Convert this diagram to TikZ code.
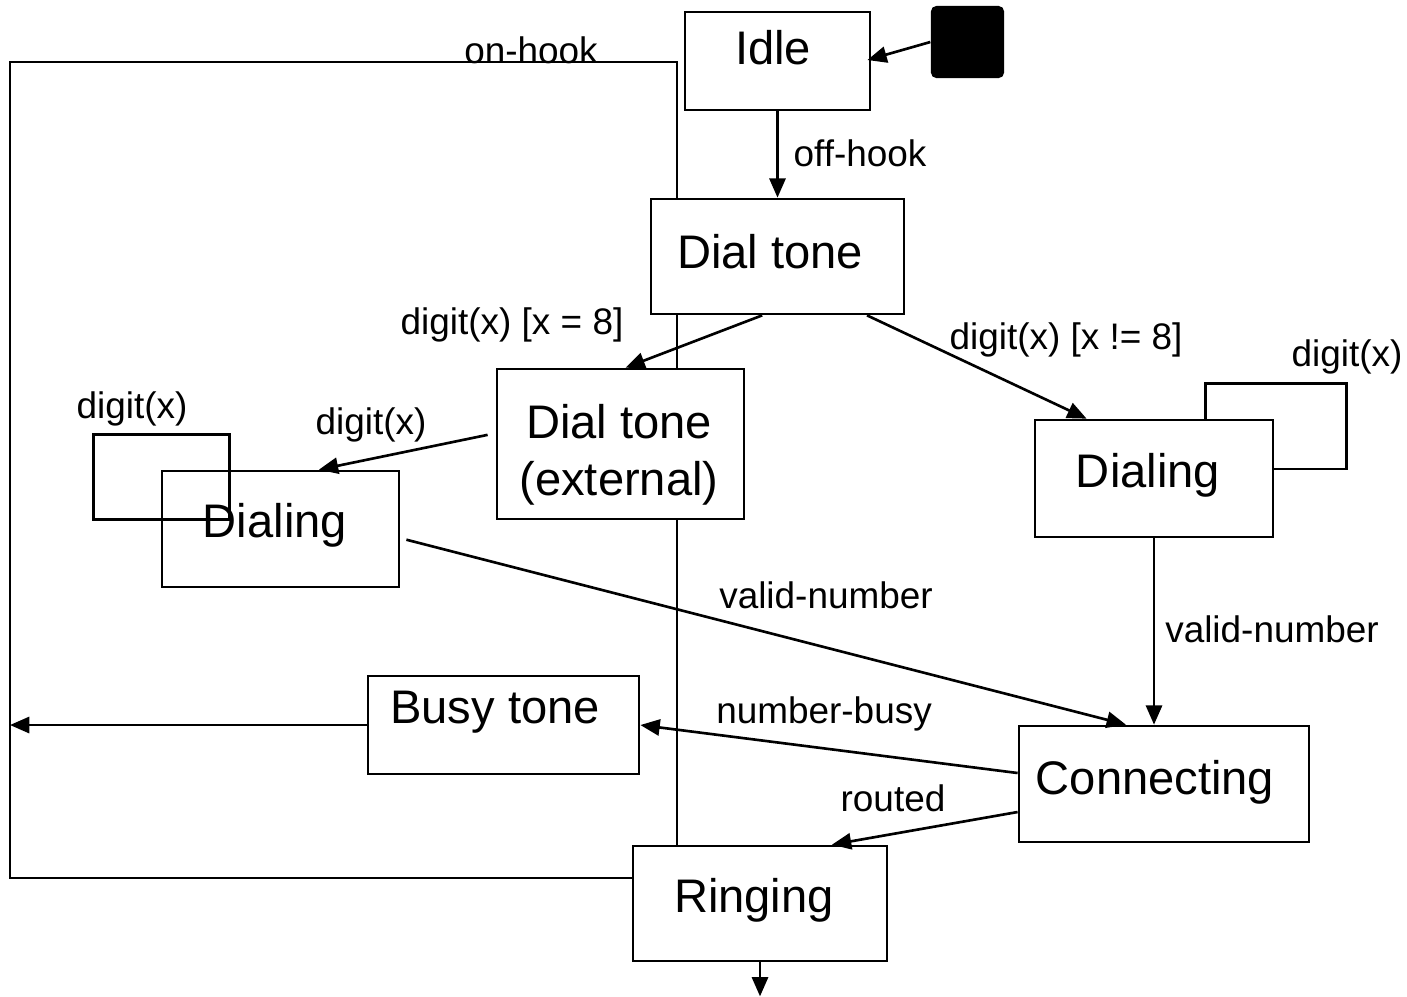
\documentclass[tikz,border=0pt]{standalone}
\usepackage{fontspec}
\setmainfont{Liberation Sans}
\usetikzlibrary{arrows.meta,calc}
\tikzset{
  zustand/.style={draw, line width=0.75pt, inner sep=0pt},
  zname/.style={font=\fontsize{13.4}{16.2}\selectfont, inner sep=0pt, align=center},
  beschr/.style={font=\fontsize{10.5}{12.6}\selectfont, inner sep=0pt},
  pfeil/.style={-{Triangle[length=5.5pt,width=4.6pt]}, line width=0.75pt},
  linie/.style={line width=0.75pt}
}
\begin{document}
\begin{tikzpicture}[x=0.01cm,y=-0.01cm]
  \useasboundingbox (0,0) rectangle (1407,996);

  % Zustaende (Kaesten)
  \node[zustand, minimum width=1.85cm, minimum height=0.98cm] (idle) at (777.5,61) {};
  \node[zustand, minimum width=2.53cm, minimum height=1.15cm] (dial) at (777.5,256.5) {};
  \node[zustand, minimum width=2.47cm, minimum height=1.50cm] (ext) at (620.5,444) {};
  \node[zustand, minimum width=2.37cm, minimum height=1.16cm] (ldial) at (280.5,529) {};
  \node[zustand, minimum width=2.38cm, minimum height=1.17cm] (rdial) at (1154,478.5) {};
  \node[zustand, minimum width=2.71cm, minimum height=0.98cm] (busy) at (503.5,725) {};
  \node[zustand, minimum width=2.90cm, minimum height=1.16cm] (conn) at (1164,784) {};
  \node[zustand, minimum width=2.54cm, minimum height=1.15cm] (ring) at (760,903.5) {};

  % Startpunkt
  \node[fill=black, rounded corners=1.5pt, minimum width=0.73cm, minimum height=0.72cm, inner sep=0pt] (start) at (967.5,42) {};

  % Beschriftung der Zustaende
  \node[zname] (idle-t) at (773,48) {Idle};
  \node[zname] (dial-t) at (770,252) {Dial tone};
  \node[zname] (ext-t) at (619,455) {Dial tone\\(external)};
  \node[zname] (ldial-t) at (275,525) {Dialing};
  \node[zname] (rdial-t) at (1148,475) {Dialing};
  \node[zname] (busy-t) at (495,712) {Busy tone};
  \node[zname] (conn-t) at (1155,782) {Connecting};
  \node[zname] (ring-t) at (754,900) {Ringing};

  % Rahmenlinie (on-hook)
  \coordinate (lu) at (10,878);
  \coordinate (lo) at (10,62);
  \coordinate (ro) at (677,62);
  \draw[linie] (ring.west |- lu) -- (lu) -- (lo) -- (ro) -- (ro |- dial.north);
  \draw[linie] (ro |- dial.south) -- (ro |- ext.north);
  \draw[linie] (ro |- ext.south) -- (ro |- ring.north);

  % Selbstschleifen
  \draw[linie] ($(ldial.north west)+(-67,-35)$) rectangle ($(ldial.north west)+(69,50)$);
  \draw[linie] ($(rdial.north west)+(172,0)$) |- ($(rdial.north east)+(72,-35)$) |- ($(rdial.east)+(0,-9.5)$);

  % Uebergaenge
  \draw[pfeil] (start.west) -- ($(idle.east)+(-4,-1)$);
  \draw[pfeil] (idle.south) -- (dial.north);
  \draw[pfeil] ($(dial.south west)!0.44!(dial.south east)$) -- ($(ext.north west)!0.52!(ext.north east)$);
  \draw[pfeil] ($(dial.south west)!0.85!(dial.south east)$) -- ($(rdial.north west)!0.22!(rdial.north east)$);
  \draw[pfeil] ($(ext.north west)!0.44!(ext.south west)+(-8,0)$) -- ($(ldial.north west)!0.66!(ldial.north east)$);
  \draw[pfeil] ($(ldial.north east)!0.59!(ldial.south east)+(6,0)$) -- ($(conn.north west)!0.37!(conn.north east)$);
  \draw[pfeil] (rdial.south) -- (rdial.south |- conn.north);
  \draw[pfeil] ($(conn.west)+(0,-11)$) -- (busy.east);
  \draw[pfeil] (busy.west) -- (busy.west -| lu);
  \draw[pfeil] ($(conn.west)+(0,28)$) -- ($(ring.north west)!0.78!(ring.north east)$);
  \coordinate (ende) at ($(ring.south)+(0,34)$);
  \draw[pfeil] (ring.south) -- (ende);

  % Beschriftung der Uebergaenge
  \node[beschr] (l-onhook) at (531,50) {on-hook};
  \node[beschr] (l-offhook) at (860,153) {off-hook};
  \node[beschr] (l-x8) at (512,325) {digit(x) [x = 8]};
  \node[beschr] (l-xn8) at (1066,340) {digit(x) [x != 8]};
  \node[beschr] (l-lschl) at (132,409) {digit(x)};
  \node[beschr] (l-ext) at (371,425) {digit(x)};
  \node[beschr] (l-rschl) at (1347,357) {digit(x)};
  \node[beschr] (l-valid1) at (826,595) {valid-number};
  \node[beschr] (l-valid2) at (1272,629) {valid-number};
  \node[beschr] (l-busy) at (824,714) {number-busy};
  \node[beschr] (l-routed) at (893,798) {routed};

\end{tikzpicture}
\end{document}
